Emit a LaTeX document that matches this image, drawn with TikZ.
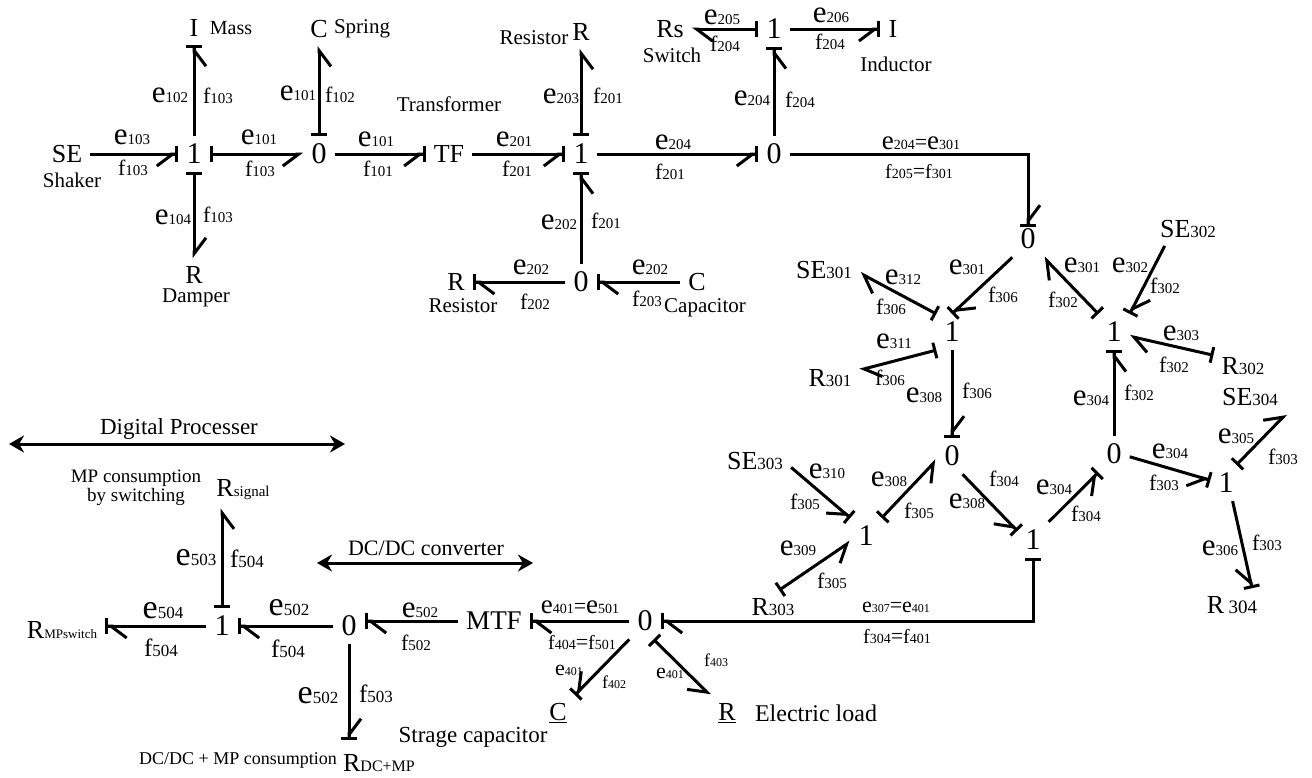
\documentclass[tikz,border=0pt]{standalone}
\usepackage{fontspec}
\setmainfont{Liberation Serif}
\usetikzlibrary{arrows.meta}
% sizes of the effort and flow symbols
\newcommand{\sz}[2]{{\fontsize{#1}{#1}\selectfont #2}}
\newcommand{\eX}[1]{\sz{34}{e}\sz{17}{#1}}
\newcommand{\eL}[1]{\sz{31}{e}\sz{15}{#1}}
\newcommand{\eM}[1]{\sz{27}{e}\sz{14}{#1}}
\newcommand{\eS}[1]{\sz{22}{e}\sz{12}{#1}}
\newcommand{\fX}[1]{\sz{25}{f}\sz{17}{#1}}
\newcommand{\fL}[1]{\sz{22}{f}\sz{15}{#1}}
\newcommand{\fM}[1]{\sz{20}{f}\sz{14}{#1}}
\newcommand{\fS}[1]{\sz{18}{f}\sz{12}{#1}}
\tikzset{
  halfR/.tip={Straight Barb[harpoon,swap,length=16pt,width=24pt,line width=3pt]},
  halfL/.tip={Straight Barb[harpoon,length=16pt,width=24pt,line width=3pt]},
  stroke/.tip={Bar[width=16pt,line width=3pt]},
  strokeR/.tip={Straight Barb[harpoon,swap,length=16pt,width=24pt,line width=3pt,sep=-2pt]Bar[width=16pt,line width=3pt]},
  strokeL/.tip={Straight Barb[harpoon,length=16pt,width=24pt,line width=3pt,sep=-2pt]Bar[width=16pt,line width=3pt]},
  bond/.style={line width=3pt,black},
  jct/.style={font=\fontsize{30}{30}\selectfont,inner sep=8pt},
  elem/.style={font=\fontsize{26}{26}\selectfont,inner sep=8pt},
  txt/.style={font=\fontsize{21}{21}\selectfont,inner sep=0pt,align=center},
  lab/.style={font=\fontsize{22}{22}\selectfont,inner sep=0pt},
  span/.style={line width=3pt,{Stealth[length=15pt,width=17pt]}-{Stealth[length=15pt,width=17pt]}}
}
\begin{document}
\begin{tikzpicture}[x=1pt,y=-1pt]
\useasboundingbox (0,0) rectangle (1312,777);
% mechanical part
\node[elem] (seS) at (67,154) {SE};
\node[jct] (oneA) at (194,154) {1};
\node[jct] (zeroA) at (319,154) {0};
\node[elem] (tf) at (449,154) {TF};
\node[jct] (oneB) at (581,154) {1};
\node[jct] (zeroB) at (774,154) {0};
\node[elem] (mass) at (194,28) {I};
\node[elem] (spring) at (319,29) {C};
\node[elem] (damper) at (194,275) {R};
\node[elem] (resU) at (581,32) {R};
\node[elem] (resL) at (456,282) {R};
\node[jct] (zeroC) at (581,282) {0};
\node[elem] (cap) at (697,282) {C};
\node[jct] (oneC) at (774,29) {1};
\node[elem] (rsw) at (670,29) {Rs};
\node[elem] (ind) at (893,29) {I};
\node[txt] (tShaker) at (72,180) {Shaker};
\node[txt,font=\fontsize{20}{20}\selectfont] (tMass) at (231,28) {Mass};
\node[txt] (tSpring) at (362,29) {Spring};
\node[txt] (tDamper) at (196,298) {Damper};
\node[txt] (tTrans) at (449,104) {Transformer};
\node[txt] (tResU) at (534,38) {Resistor};
\node[txt] (tResL) at (463,306) {Resistor};
\node[txt] (tCap) at (705,308) {Capacitor};
\node[txt] (tSwitch) at (672,55) {Switch};
\node[txt] (tInd) at (896,64) {Inductor};
\draw[bond,-strokeR] (seS) -- (oneA);
\draw[bond,-strokeR] (oneA) -- (mass);
\draw[bond,stroke-halfR] (oneA) -- (zeroA);
\draw[bond,stroke-halfR] (zeroA) -- (spring);
\draw[bond,-strokeR] (zeroA) -- (tf);
\draw[bond,-strokeR] (tf) -- (oneB);
\draw[bond,stroke-halfL] (oneA) -- (damper);
\draw[bond,stroke-halfR] (oneB) -- (resU);
\draw[bond,-strokeR] (zeroC) -- (oneB);
\draw[bond,-strokeL] (zeroC) -- (resL);
\draw[bond,-strokeL] (cap) -- (zeroC);
\draw[bond,-strokeR] (oneB) -- (zeroB);
\draw[bond,-strokeR] (zeroB) -- (oneC);
\draw[bond,stroke-halfL] (oneC) -- (rsw);
\draw[bond,-strokeR] (oneC) -- (ind);
\node[lab] (l1) at (132,137) {\eL{103}};
\node[lab] (l2) at (133,168) {\fL{103}};
\node[lab] (l3) at (170,95) {\eL{102}};
\node[lab] (l4) at (218,96) {\fL{103}};
\node[lab] (l5) at (259,137) {\eL{101}};
\node[lab] (l6) at (260,169) {\fL{103}};
\node[lab] (l7) at (298,93) {\eL{101}};
\node[lab] (l8) at (340,95) {\fL{102}};
\node[lab] (l9) at (376,139) {\eL{101}};
\node[lab] (l10) at (378,169) {\fL{101}};
\node[lab] (l11) at (514,139) {\eL{201}};
\node[lab] (l12) at (517,169) {\fL{201}};
\node[lab] (l13) at (561,96) {\eL{203}};
\node[lab] (l14) at (608,96) {\fL{201}};
\node[lab] (l15) at (173,217) {\eL{104}};
\node[lab] (l16) at (218,215) {\fL{103}};
\node[lab] (l17) at (559,222) {\eL{202}};
\node[lab] (l18) at (606,221) {\fL{201}};
\node[lab] (l19) at (531,267) {\eL{202}};
\node[lab] (l20) at (535,302) {\fL{202}};
\node[lab] (l21) at (650,267) {\eL{202}};
\node[lab] (l22) at (647,299) {\fL{203}};
\node[lab] (l23) at (722,17) {\eL{205}};
\node[lab] (l24) at (725,44) {\fL{204}};
\node[lab] (l25) at (831,15) {\eL{206}};
\node[lab] (l26) at (830,42) {\fL{204}};
\node[lab] (l27) at (752,98) {\eL{204}};
\node[lab] (l28) at (800,100) {\fL{204}};
\node[lab] (l29) at (673,142) {\eL{204}};
\node[lab] (l30) at (670,172) {\fL{201}};
\node[lab] (l31) at (921,143) {\eM{204}=\eM{301}};
\node[lab] (l32) at (919,172) {\fM{205}=\fM{301}};
% generator circuit
\node[jct] (zeroE) at (1028,239) {0};
\node[jct] (oneD) at (952,332) {1};
\node[jct] (oneE) at (1114,332) {1};
\node[jct] (zeroF) at (952,456) {0};
\node[jct] (zeroG) at (1114,454) {0};
\node[jct] (oneF) at (1226,483) {1};
\node[jct] (oneG) at (1033,540) {1};
\node[jct] (oneH) at (866,536) {1};
\node[elem] (se301) at (824,270) {SE\sz{17}{301}};
\node[elem] (se302) at (1188,229) {SE\sz{17}{302}};
\node[elem] (se303) at (755,461) {SE\sz{17}{303}};
\node[elem] (se304) at (1250,397) {SE\sz{17}{304}};
\node[elem] (r301) at (830,378) {R\sz{17}{301}};
\node[elem] (r302) at (1243,366) {R\sz{17}{302}};
\node[elem] (r303) at (773,607) {R\sz{17}{303}};
\node[elem] (r304) at (1232,605) {R\,\sz{19}{304}};
\draw[bond,-strokeL,shorten >=-6pt] (zeroB) -| (zeroE.north);
\draw[bond,-strokeL] (zeroE.south west) -- (oneD.north);
\draw[bond,stroke-halfL] (oneD.north west) -- (se301.-5);
\draw[bond,stroke-halfL] (oneD.south west) -- (r301.15);
\draw[bond,-strokeL] (oneD) -- (zeroF);
\draw[bond,stroke-halfL] (oneE.north west) -- (zeroE.south east);
\draw[bond,-strokeL] (se302.216) -- (oneE.north east);
\draw[bond,stroke-halfL] (r302.160) -- (oneE.-15);
\draw[bond,-strokeR] (zeroG) -- (oneE);
\draw[bond,-strokeR] (se303.-10) -- (oneH.north west);
\draw[bond,stroke-halfR] (oneH.north east) -- (zeroF.195);
\draw[bond,stroke-halfR] (r303.70) -- (oneH.200);
\draw[bond,-strokeR] (zeroF.-60) -- (oneG.150);
\draw[bond,-strokeR] (oneG.north east) -- (zeroG.south west);
\draw[bond,-strokeR] (zeroG.-10) -- (oneF.170);
\draw[bond,stroke-halfL] (oneF.60) -- (se304.south east);
\draw[bond,-strokeR] (oneF.-70) -- (r304.40);
\node[lab] (l33) at (903,277) {\eL{312}};
\node[lab] (l34) at (891,307) {\fL{306}};
\node[lab] (l35) at (967,267) {\eL{301}};
\node[lab] (l36) at (1003,295) {\fL{306}};
\node[lab] (l37) at (1082,265) {\eL{301}};
\node[lab] (l38) at (1063,300) {\fL{302}};
\node[lab] (l39) at (1130,265) {\eL{302}};
\node[lab] (l40) at (1165,286) {\fL{302}};
\node[lab] (l41) at (894,341) {\eL{311}};
\node[lab] (l42) at (890,378) {\fL{306}};
\node[lab] (l43) at (924,395) {\eL{308}};
\node[lab] (l44) at (977,391) {\fL{306}};
\node[lab] (l45) at (1181,333) {\eL{303}};
\node[lab] (l46) at (1174,365) {\fL{302}};
\node[lab] (l47) at (1091,398) {\eL{304}};
\node[lab] (l48) at (1139,393) {\fL{302}};
\node[lab] (l49) at (827,471) {\eL{310}};
\node[lab] (l50) at (805,502) {\fL{305}};
\node[lab] (l51) at (889,479) {\eL{308}};
\node[lab] (l52) at (919,511) {\fL{305}};
\node[lab] (l53) at (1004,479) {\fL{304}};
\node[lab] (l54) at (967,501) {\eL{308}};
\node[lab] (l55) at (1054,487) {\eL{304}};
\node[lab] (l56) at (1086,514) {\fL{304}};
\node[lab] (l57) at (1170,451) {\eL{304}};
\node[lab] (l58) at (1164,483) {\fL{303}};
\node[lab] (l59) at (1236,436) {\eL{305}};
\node[lab] (l60) at (1283,457) {\fL{303}};
\node[lab] (l61) at (1220,548) {\eL{306}};
\node[lab] (l62) at (1267,543) {\fL{303}};
\node[lab] (l63) at (798,548) {\eL{309}};
\node[lab] (l64) at (832,581) {\fL{305}};
\node[lab] (l65) at (896,607) {\eS{307}=\eS{401}};
\node[lab] (l66) at (897,637) {\fM{304}=\fM{401}};
% load and processor
\node[jct] (zeroH) at (645,621) {0};
\node[elem,font=\fontsize{27}{27}\selectfont] (mtf) at (494,621) {MTF};
\node[jct] (zeroI) at (349,626) {0};
\node[jct] (oneI) at (222,626) {1};
\node[elem] (rmp) at (62,630) {R\sz{13}{MPswitch}};
\node[elem] (rsig) at (243,490) {R\sz{15}{signal}};
\node[elem,inner ysep=14pt] (rdc) at (379,763) {R\sz{16}{DC+MP}};
\node[elem] (capL) at (558,713) {\underline{C}};
\node[elem] (resE) at (727,713) {\underline{R}};
\coordinate (digL) at (9,444);
\coordinate (digR) at (345,444);
\coordinate (dcL) at (317,563);
\coordinate (dcR) at (533,563);
\draw[span] (digL) -- (digR);
\draw[span] (dcL) -- (dcR);
\draw[bond,stroke-strokeL] (oneG) |- (zeroH);
\draw[bond,-strokeL] (zeroH) -- (mtf);
\draw[bond,-strokeL] (mtf) -- (zeroI.east |- mtf);
\draw[bond,-strokeL] (zeroI) -- (oneI);
\draw[bond,-strokeL] (oneI) -- (rmp.east |- oneI);
\draw[bond,stroke-halfR] (oneI) -- (oneI |- rsig.south);
\draw[bond,-strokeL] (zeroI) -- (zeroI |- rdc.north);
\draw[bond,-strokeR] (zeroH.south west) -- (capL.north east);
\draw[bond,stroke-halfR] (zeroH.-65) -- (resE.north west);
\node[txt,font=\fontsize{23}{23}\selectfont] (tDig) at (179,429) {Digital Processer};
\node[txt,font=\fontsize{22}{22}\selectfont] (tDc) at (426,548) {DC/DC converter};
\node[txt,font=\fontsize{19}{19}\selectfont] (tMp) at (136,488) {MP consumption\\by switching};
\node[txt,font=\fontsize{23}{23}\selectfont] (tStr) at (473,737) {Strage capacitor};
\node[txt,font=\fontsize{24}{24}\selectfont] (tLoad) at (816,713) {Electric load};
\node[txt,font=\fontsize{18}{18}\selectfont] (tDcmp) at (238,760) {DC/DC + MP consumption};
\node[lab] (l67) at (196,558) {\eX{503}};
\node[lab] (l68) at (247,559) {\fX{504}};
\node[lab] (l69) at (163,611) {\eX{504}};
\node[lab] (l70) at (161,648) {\fX{504}};
\node[lab] (l71) at (289,608) {\eX{502}};
\node[lab] (l72) at (288,649) {\fX{504}};
\node[lab] (l73) at (420,610) {\eL{502}};
\node[lab] (l74) at (416,643) {\fL{502}};
\node[lab] (l75) at (580,607) {\eM{401}=\eM{501}};
\node[lab] (l76) at (582,643) {\fM{404}=\fM{501}};
\node[lab] (l77) at (569,670) {\eS{401}};
\node[lab] (l78) at (614,682) {\fS{402}};
\node[lab] (l79) at (670,673) {\eS{401}};
\node[lab] (l80) at (716,660) {\fS{403}};
\node[lab] (l81) at (318,696) {\eX{502}};
\node[lab] (l82) at (376,694) {\fX{503}};
\end{tikzpicture}
\end{document}
